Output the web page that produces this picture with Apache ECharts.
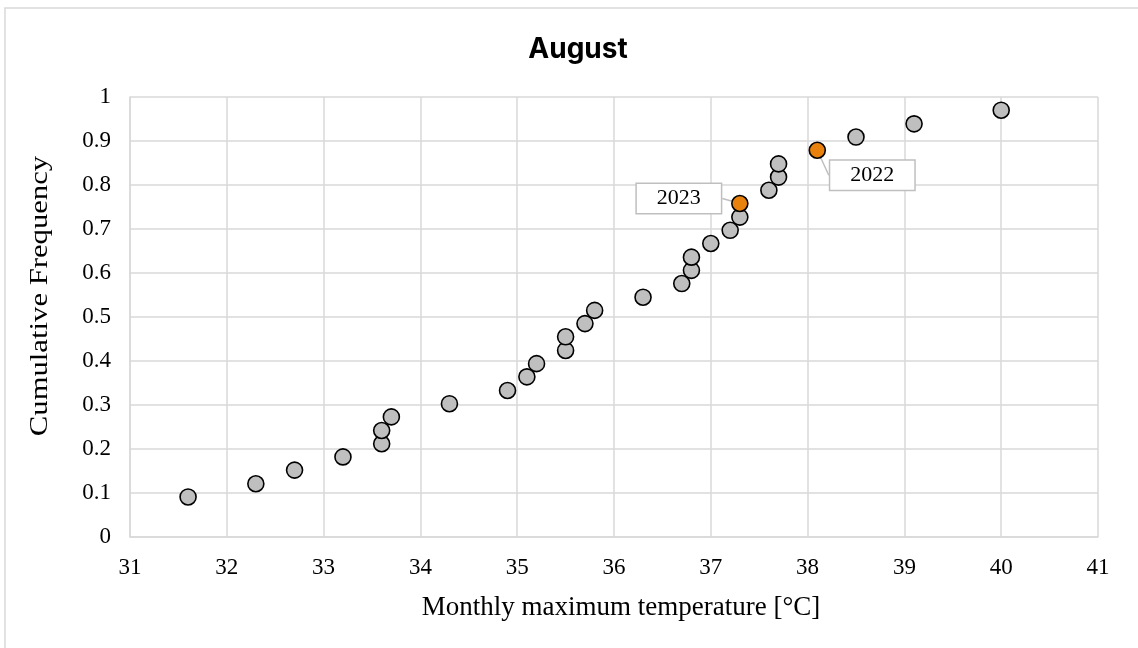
<!DOCTYPE html>
<html>
<head>
<meta charset="utf-8">
<script src="https://cdn.jsdelivr.net/npm/echarts@6/dist/echarts.min.js"></script>
<style>html,body{margin:0;padding:0;background:#fff;}#c{width:1138px;height:648px;}</style>
</head>
<body>
<div id="c"></div>
<script>
// Monthly maximum temperature [°C] and cumulative frequency, August
var temps = [31.6, 32.3, 32.7, 33.2, 33.6, 33.6, 33.7, 34.3, 34.9, 35.1, 35.2, 35.5, 35.5, 35.7, 35.8,
             36.3, 36.7, 36.8, 36.8, 37.0, 37.2, 37.3, 37.6, 37.7, 37.7, 38.5, 39.1, 40.0];
var freqs = [0.091, 0.121, 0.152, 0.182, 0.212, 0.242, 0.273, 0.303, 0.333, 0.364, 0.394, 0.424, 0.455, 0.485, 0.515,
             0.545, 0.576, 0.606, 0.636, 0.667, 0.697, 0.727, 0.788, 0.818, 0.848, 0.909, 0.939, 0.970];
// highlighted years
var hlYears = ['2023', '2022'];
var hlTemps = [37.3, 38.1];
var hlFreqs = [0.758, 0.879];
var xTicks = [31, 32, 33, 34, 35, 36, 37, 38, 39, 40, 41];
var yTicks = [0, 0.1, 0.2, 0.3, 0.4, 0.5, 0.6, 0.7, 0.8, 0.9, 1];
var labelShift = [[-61, -5], [55, 25]];

var serif = '"Liberation Serif", "Times New Roman", serif';
var mainData = temps.map(function (t, i) { return [t, freqs[i]]; });
var hlData = hlTemps.map(function (t, i) { return { value: [t, hlFreqs[i]], name: hlYears[i] }; });

var chart = echarts.init(document.getElementById('c'), null, { renderer: 'canvas' });
chart.setOption({
  animation: false,
  backgroundColor: '#fff',
  graphic: [
    { type: 'rect', shape: { x: 5, y: 8, width: 1300, height: 800 }, style: { fill: 'none', stroke: '#d9d9d9', lineWidth: 1.5 }, silent: true, z: -1 },
    { type: 'text', x: 40, y: 296, rotation: Math.PI / 2, scaleX: 1.18, scaleY: 1,
      style: { text: 'Cumulative Frequency', font: '26px ' + serif, fill: '#000', textAlign: 'center', textVerticalAlign: 'middle' } },
    { type: 'text', x: 621, y: 608, style: { text: 'Monthly maximum temperature [°C]', font: '27px ' + serif, fill: '#000', textAlign: 'center', textVerticalAlign: 'middle' } }
  ],
  title: {
    text: 'August', left: 573, top: 31, textAlign: 'center',
    textStyle: { fontFamily: 'Inter', fontWeight: 'bold', fontSize: 28, color: '#000' }
  },
  grid: { left: 130, right: 40, top: 97, bottom: 111 },
  xAxis: {
    type: 'value', min: xTicks[0], max: xTicks[xTicks.length - 1], interval: 1,
    axisLine: { lineStyle: { color: '#d9d9d9', width: 1.5 } },
    axisTick: { show: false },
    splitLine: { show: true, lineStyle: { color: '#d9d9d9', width: 1.5 } },
    axisLabel: { fontFamily: serif, fontSize: 23, color: '#000', margin: 19 }
  },
  yAxis: {
    type: 'value', min: yTicks[0], max: yTicks[yTicks.length - 1], interval: 0.1,
    axisLine: { show: true, lineStyle: { color: '#d9d9d9', width: 1.5 } },
    axisTick: { show: false },
    splitLine: { show: true, lineStyle: { color: '#d9d9d9', width: 1.5 } },
    axisLabel: { fontFamily: serif, fontSize: 23, color: '#000', margin: 19,
      formatter: function (v) { return String(Math.round(v * 10) / 10); } }
  },
  series: [
    {
      type: 'scatter', data: mainData, symbol: 'circle', symbolSize: 16,
      itemStyle: { color: '#bfbfbf', borderColor: '#000', borderWidth: 1.6, opacity: 1 }
    },
    {
      type: 'scatter', data: hlData, symbol: 'circle', symbolSize: 16, z: 3,
      itemStyle: { color: '#e8820c', borderColor: '#000', borderWidth: 1.6, opacity: 1 },
      label: {
        show: true, position: 'inside', formatter: '{b}',
        fontFamily: serif, fontSize: 22, color: '#000',
        backgroundColor: '#fff', borderColor: '#bfbfbf', borderWidth: 1.5,
        padding: [4, 20, 3, 20]
      },
      labelLine: { show: true, showAbove: false, length2: 0, lineStyle: { color: '#bfbfbf', width: 1.5 } },
      labelLayout: function (p) {
        var s = labelShift[p.dataIndex];
        return { dx: s[0], dy: s[1] };
      }
    }
  ]
});
</script>
</body>
</html>
